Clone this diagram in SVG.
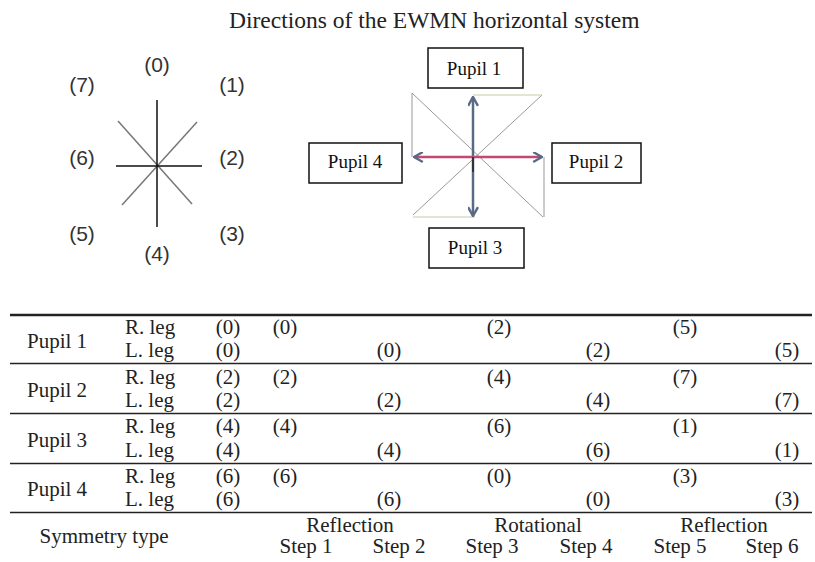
<svg xmlns="http://www.w3.org/2000/svg" width="815" height="562" viewBox="0 0 815 562">
<style>
.title{font-family:"Liberation Serif","Times New Roman",serif;font-size:23.5px;fill:#222}
.dir{font-family:"Liberation Sans",Arial,sans-serif;font-size:21px;fill:#333;text-anchor:middle}
.box{fill:#fff;stroke:#111;stroke-width:1.5}
.bt{font-family:"Liberation Serif","Times New Roman",serif;font-size:19px;fill:#111;text-anchor:middle}
.t{font-family:"Liberation Serif","Times New Roman",serif;font-size:21px;fill:#222}
.c{text-anchor:middle}
.thin{stroke:#999;stroke-width:1;fill:none}
.pale{stroke:#c9c9a6;stroke-width:1;fill:none}
.arr{stroke:#5a6a84;stroke-width:2.5;fill:none;marker-end:url(#chev)}
.rule{stroke:#222;stroke-width:1.3}
</style>
<defs>
<marker id="chev" viewBox="0 0 10 10" refX="9" refY="5" markerWidth="11" markerHeight="11" markerUnits="userSpaceOnUse" orient="auto">
<path d="M1,0.5 L9,5 L1,9.5" fill="none" stroke="#5a6a84" stroke-width="2.2"/>
</marker>
</defs>
<rect width="815" height="562" fill="#fff"/>
<text class="title" x="229" y="28">Directions of the EWMN horizontal system</text>

<g id="compass">
<line x1="118" y1="121" x2="192" y2="204" stroke="#777" stroke-width="1.5"/>
<line x1="197" y1="122" x2="122" y2="205" stroke="#777" stroke-width="1.5"/>
<line x1="157" y1="100" x2="157" y2="227" stroke="#111" stroke-width="1.5"/>
<line x1="116" y1="166" x2="202" y2="166" stroke="#111" stroke-width="1.5"/>
<text class="dir" x="157" y="72">(0)</text>
<text class="dir" x="232" y="92">(1)</text>
<text class="dir" x="232" y="165">(2)</text>
<text class="dir" x="232" y="241">(3)</text>
<text class="dir" x="157" y="261">(4)</text>
<text class="dir" x="82" y="241">(5)</text>
<text class="dir" x="82" y="165">(6)</text>
<text class="dir" x="82" y="92">(7)</text>
</g>

<g id="pinwheel">
<line class="thin" x1="412" y1="93" x2="543" y2="217"/>
<line class="thin" x1="542" y1="95" x2="413" y2="215"/>
<line class="thin" x1="412" y1="93" x2="412" y2="157"/>
<line class="pale" x1="473" y1="95" x2="542" y2="95"/>
<line class="thin" x1="544" y1="157" x2="544" y2="217"/>
<line class="pale" x1="413" y1="217" x2="475" y2="217"/>
</g>

<g id="pupil1"><rect class="box" x="428" y="48" width="95" height="40"/><text class="bt" x="474" y="75">Pupil 1</text></g>
<g id="pupil2"><rect class="box" x="552" y="143" width="89" height="40"/><text class="bt" x="596" y="168">Pupil 2</text></g>
<g id="pupil3"><rect class="box" x="429" y="228" width="95" height="40"/><text class="bt" x="475" y="254">Pupil 3</text></g>
<g id="pupil4"><rect class="box" x="309" y="143" width="93" height="40"/><text class="bt" x="355" y="168">Pupil 4</text></g>

<g id="connectors">
<path class="arr" d="M473,157 L473,97"/>
<path class="arr" d="M473,157 L473,216"/>
<path class="arr" d="M473,157 L414,157" style="stroke:#c24a72"/>
<path class="arr" d="M473,157 L542,157" style="stroke:#c24a72"/>
<line x1="473" y1="157" x2="473" y2="172" stroke="#333" stroke-width="2"/>
</g>

<g id="table">
<line x1="10" y1="315" x2="812" y2="315" stroke="#222" stroke-width="2.6"/>
<line class="rule" x1="10" y1="363.5" x2="812" y2="363.5"/>
<line class="rule" x1="10" y1="413.5" x2="812" y2="413.5"/>
<line class="rule" x1="10" y1="463.5" x2="812" y2="463.5"/>
<line class="rule" x1="10" y1="512.5" x2="812" y2="512.5"/>

<text class="t" x="27" y="348">Pupil 1</text>
<text class="t" x="27" y="397">Pupil 2</text>
<text class="t" x="27" y="447">Pupil 3</text>
<text class="t" x="27" y="496">Pupil 4</text>

<text class="t" x="125" y="334">R. leg</text>
<text class="t" x="125" y="357">L. leg</text>
<text class="t" x="125" y="384">R. leg</text>
<text class="t" x="125" y="407">L. leg</text>
<text class="t" x="125" y="433">R. leg</text>
<text class="t" x="125" y="457">L. leg</text>
<text class="t" x="125" y="483">R. leg</text>
<text class="t" x="125" y="506">L. leg</text>

<g class="t c">
<text x="228" y="334">(0)</text><text x="285" y="334">(0)</text><text x="499" y="334">(2)</text><text x="685" y="334">(5)</text>
<text x="228" y="357">(0)</text><text x="389" y="357">(0)</text><text x="598" y="357">(2)</text><text x="787" y="357">(5)</text>
<text x="228" y="384">(2)</text><text x="285" y="384">(2)</text><text x="499" y="384">(4)</text><text x="685" y="384">(7)</text>
<text x="228" y="407">(2)</text><text x="389" y="407">(2)</text><text x="598" y="407">(4)</text><text x="787" y="407">(7)</text>
<text x="228" y="433">(4)</text><text x="285" y="433">(4)</text><text x="499" y="433">(6)</text><text x="685" y="433">(1)</text>
<text x="228" y="457">(4)</text><text x="389" y="457">(4)</text><text x="598" y="457">(6)</text><text x="787" y="457">(1)</text>
<text x="228" y="483">(6)</text><text x="285" y="483">(6)</text><text x="499" y="483">(0)</text><text x="685" y="483">(3)</text>
<text x="228" y="506">(6)</text><text x="389" y="506">(6)</text><text x="598" y="506">(0)</text><text x="787" y="506">(3)</text>
<text x="104" y="543">Symmetry type</text>
<text x="350" y="532">Reflection</text>
<text x="538" y="532">Rotational</text>
<text x="724" y="532">Reflection</text>
<text x="306" y="553">Step 1</text>
<text x="399" y="553">Step 2</text>
<text x="492" y="553">Step 3</text>
<text x="586" y="553">Step 4</text>
<text x="680" y="553">Step 5</text>
<text x="772" y="553">Step 6</text>
</g>
</g>
</svg>
